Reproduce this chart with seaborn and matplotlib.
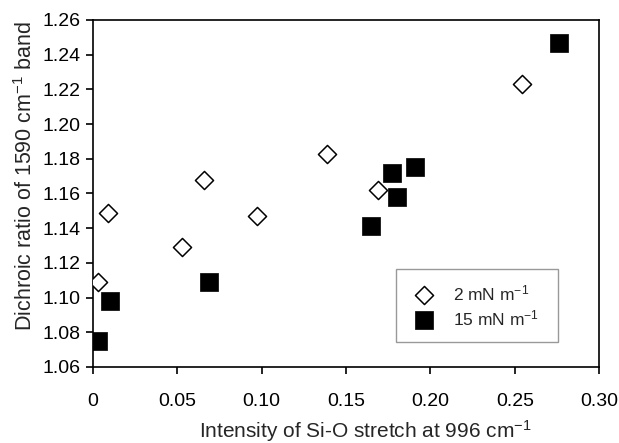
import numpy as np
import pandas as pd
import matplotlib
matplotlib.use("Agg")
import matplotlib.pyplot as plt
import seaborn as sns

# 2 mN/m series (open diamonds)
x_2mN = [0.003, 0.009, 0.053, 0.066, 0.097, 0.139, 0.169, 0.254]
y_2mN = [1.109, 1.149, 1.129, 1.168, 1.147, 1.183, 1.162, 1.223]

# 15 mN/m series (filled squares)
x_15mN = [0.003, 0.010, 0.069, 0.165, 0.177, 0.180, 0.191, 0.276]
y_15mN = [1.075, 1.098, 1.109, 1.141, 1.172, 1.158, 1.175, 1.247]

xticks = [0, 0.05, 0.10, 0.15, 0.20, 0.25, 0.30]
xticklabels = ["0", "0.05", "0.10", "0.15", "0.20", "0.25", "0.30"]
yticks = [1.06, 1.08, 1.10, 1.12, 1.14, 1.16, 1.18, 1.20, 1.22, 1.24, 1.26]

df2 = pd.DataFrame({"x": x_2mN, "y": y_2mN})
df15 = pd.DataFrame({"x": x_15mN, "y": y_15mN})

sns.set_style("ticks")
plt.rcParams["font.family"] = ["Liberation Sans", "DejaVu Sans"]
plt.rcParams["mathtext.fontset"] = "custom"
plt.rcParams["mathtext.rm"] = "Liberation Sans"
plt.rcParams["mathtext.it"] = "Liberation Sans"
plt.rcParams["axes.linewidth"] = 1.2

fig = plt.figure(figsize=(6.19, 4.43), dpi=100)
ax = fig.add_axes([0.150, 0.1716, 0.818, 0.7833])

sns.scatterplot(data=df2, x="x", y="y", ax=ax, marker="D", s=85,
                facecolor="white", edgecolor="black", linewidth=1.1,
                label="2 mN m$^{-1}$", zorder=3)
sns.scatterplot(data=df15, x="x", y="y", ax=ax, marker="s", s=150,
                color="black", edgecolor="black", linewidth=0.5,
                label="15 mN m$^{-1}$", zorder=3)

ax.set_xlim(0, 0.30)
ax.set_ylim(1.06, 1.26)
ax.set_xticks(xticks)
ax.set_xticklabels(xticklabels)
ax.set_yticks(yticks)
ax.set_yticklabels(["%.2f" % v for v in yticks])
ax.tick_params(axis="both", direction="out", length=5, width=1.2,
               labelsize=14, colors="black")
ax.tick_params(axis="y", pad=4)
ax.tick_params(axis="x", pad=14)
for sp in ax.spines.values():
    sp.set_color("black")
    sp.set_visible(True)

ax.set_xlabel("Intensity of Si-O stretch at 996 cm$^{-1}$", fontsize=15)
ax.set_ylabel("Dichroic ratio of 1590 cm$^{-1}$ band", fontsize=15.5)
ax.xaxis.set_label_coords(0.538, -0.147)
ax.yaxis.set_label_coords(-0.111, 0.550)

leg = ax.legend(loc="upper left", bbox_to_anchor=(0.599, 0.0, 0.320, 0.282),
                mode="expand", frameon=True, fancybox=False, fontsize=12.5,
                borderpad=0.8, handletextpad=0.85, labelspacing=0.3,
                handlelength=1.64, borderaxespad=0)
leg.get_frame().set_edgecolor("#808080")
leg.get_frame().set_linewidth(1.0)

fig.savefig("out.png", dpi=100)
